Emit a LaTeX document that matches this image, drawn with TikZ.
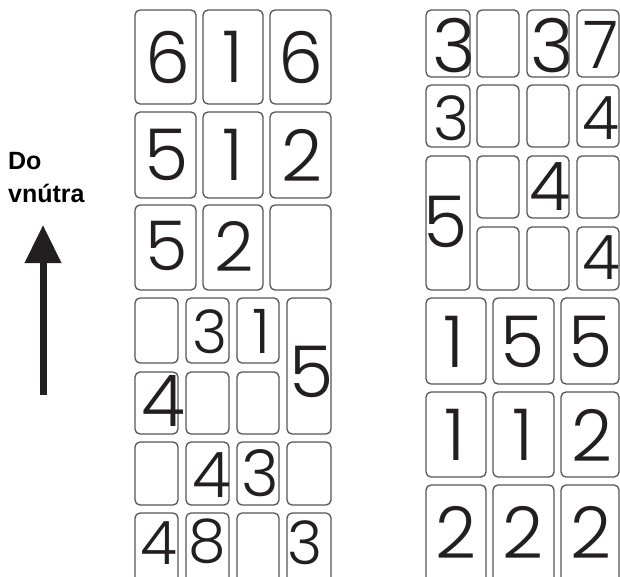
\documentclass[tikz,border=0pt]{standalone}
\usepackage{fontspec}
\setmainfont{Liberation Sans}
\newfontfamily\digitfont{Poppins Light}
\usetikzlibrary{arrows.meta}
\definecolor{cellgray}{HTML}{555555}
\definecolor{inkblack}{HTML}{231F20}

\begin{document}
\begin{tikzpicture}[x=1pt, y=-1pt, line join=round]
\tikzset{
  cellbox/.style={draw=cellgray, line width=1.3pt, rounded corners=5pt},
  digit/.style={inner sep=0pt, text=inkblack}
}

\useasboundingbox (0,0) rectangle (620,577);
\clip (0,0) rectangle (620,577);

% Label and arrow
\node[anchor=north west, inner sep=0pt, align=left, text=black,
  font=\bfseries\fontsize{25}{33}\selectfont] (label) at (8,152) {Do\\vn\'utra};
\coordinate (arrowtail) at (43,395);
\coordinate (arrowtip) at (43,225);
\draw[inkblack, line width=7pt, -{Triangle[length=38pt, width=35pt]}] (arrowtail) -- (arrowtip);

% ============================================================
% Left block
% ============================================================
% Upper part: 3 x 3
\foreach \xa/\xb in {135/196, 203/263, 270/331} {
  \foreach \ya/\yb in {10/104, 112/198, 205/290} {
    \draw[cellbox] (\xa,\ya) rectangle (\xb,\yb);
  }
}

% Lower part: 3 columns x 4 rows
\foreach \xa/\xb in {135/178, 186/229, 237/279} {
  \foreach \ya/\yb in {298/363, 372/434, 442/505, 513/590} {
    \draw[cellbox] (\xa,\ya) rectangle (\xb,\yb);
  }
}
% Fourth column (one tall cell)
\foreach \ya/\yb in {298/434, 442/505, 513/590} {
  \draw[cellbox] (287,\ya) rectangle (331,\yb);
}

% ============================================================
% Right block
% ============================================================
% Upper part: first column with a tall cell
\foreach \ya/\yb in {10/77, 85/147, 156/290} {
  \draw[cellbox] (426,\ya) rectangle (470,\yb);
}
\foreach \xa/\xb in {477/519, 527/569, 577/619} {
  \foreach \ya/\yb in {10/77, 85/147, 156/218, 227/290} {
    \draw[cellbox] (\xa,\ya) rectangle (\xb,\yb);
  }
}

% Lower part: 3 x 3
\foreach \xa/\xb in {426/486, 493/554, 561/619} {
  \foreach \ya/\yb in {298/384, 392/477, 485/590} {
    \draw[cellbox] (\xa,\ya) rectangle (\xb,\yb);
  }
}

% ============================================================
% Digits: x / y / digit / glyph height
% ============================================================
\foreach \xc/\yc/\d/\h [count=\i] in {
  168/57/6/50, 233/57/1/50, 301/57/6/50,
  167/155/5/50, 233/155/1/50, 302/155/2/50,
  167/246/5/48, 234/246/2/48,
  210/332/3/42, 261/331/1/43, 312/372/5/50,
  163/401/4/50,
  212/475/4/44, 260/473/3/45,
  159/543/4/42, 207/541/8/42, 305/543/3/42,
  454/46/3/52, 552/46/3/52, 601/45/7/46,
  451/118/3/43, 601/118/4/42,
  446/222/5/50, 550/187/4/47, 601/258/4/43,
  454/342/1/50, 523/342/5/50, 591/342/5/50,
  455/435/1/50, 523/435/1/50, 592/435/2/50,
  456/532/2/50, 523/532/2/50, 591/532/2/50} {
  \pgfmathsetmacro{\fs}{\h*1.43}
  \node[digit, font=\digitfont\fontsize{\fs}{\fs}\selectfont] (dig\i) at (\xc,\yc) {\d};
}

\end{tikzpicture}
\end{document}
